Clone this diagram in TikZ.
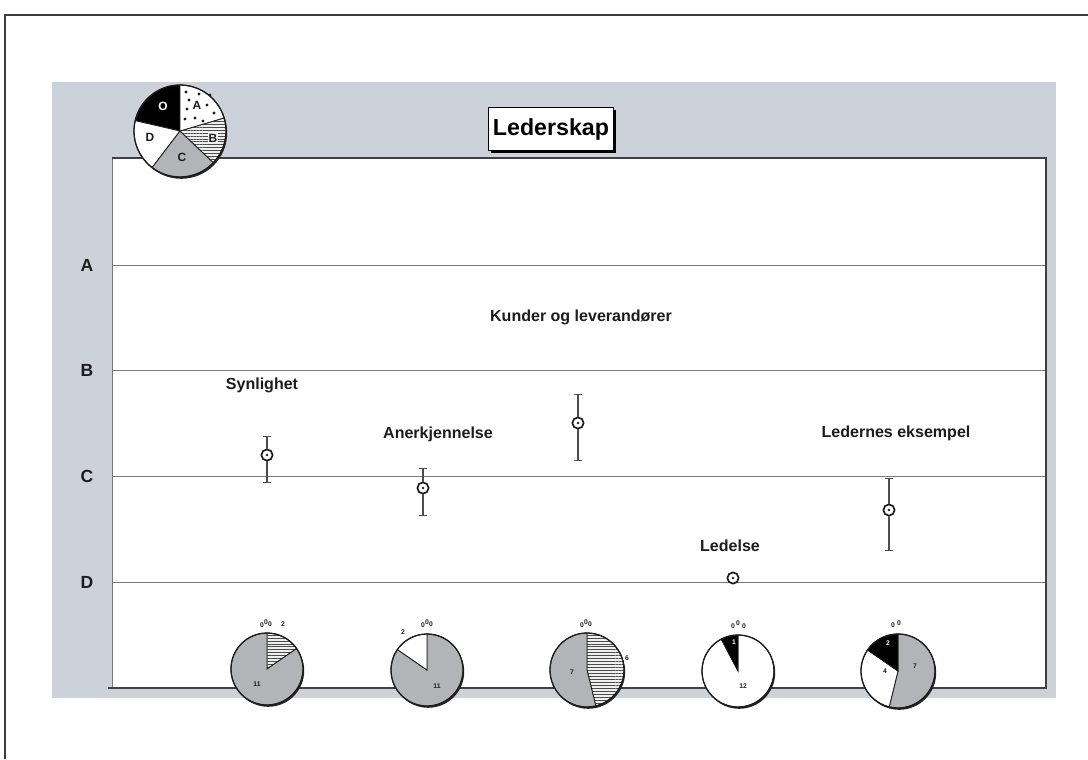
\documentclass[tikz,border=0pt]{standalone}
\usepackage{fontspec}
\setmainfont{Liberation Sans}
\usetikzlibrary{arrows.meta,patterns.meta,shadows}

\definecolor{panel}{RGB}{205,209,217}
\definecolor{sliceC}{RGB}{178,180,183}
\definecolor{ink}{RGB}{28,28,28}
\definecolor{gridc}{RGB}{120,120,120}
\definecolor{framec}{RGB}{60,60,60}

% one wedge of a pie: centre, radius, start angle, end angle (screen angles), style
\newcommand\piewedge[5]{\path[#5] (#1) -- ++({-(#3)}:#2) arc[start angle={-(#3)}, end angle={-(#4)}, radius=#2] -- cycle;}
% pie disc outline with a small drop shadow underneath
\newcommand\pieback[2]{\fill[black!85] (#1) ++(1.2,1.8) circle[radius=#2];}
\newcommand\pierim[2]{\draw[ink, line width=0.9pt] (#1) circle[radius=#2];}

\tikzset{
  sA/.style={fill=white, draw=ink, line width=0.6pt},
  sB/.style={preaction={fill=black!6}, pattern={Lines[angle=0,distance=2.1pt,line width=0.45pt]},
             pattern color=black!70, draw=ink, line width=0.6pt},
  sC/.style={fill=sliceC, draw=ink, line width=0.6pt},
  sD/.style={fill=white, draw=ink, line width=0.6pt},
  sO/.style={fill=black, draw=ink, line width=0.6pt},
  lvl/.style={font=\fontsize{12.5}{14}\selectfont\bfseries, text=ink},
  lbl/.style={font=\fontsize{11.4}{13}\selectfont\bfseries, text=ink},
  tiny/.style={font=\fontsize{4.8}{5}\selectfont\bfseries, text=ink, inner sep=0pt},
  tinyw/.style={tiny, text=white},
  leg/.style={font=\fontsize{8.5}{9}\selectfont\bfseries, text=ink, inner sep=0pt},
  marker/.style={circle, draw=ink, fill=white, line width=1.2pt, minimum size=8pt, inner sep=0pt},
  ebar/.style={draw=black!70, line width=0.75pt},
  gridl/.style={draw=gridc, line width=0.6pt},
}

\begin{document}
\begin{tikzpicture}[x=0.025cm, y=-0.025cm]
\useasboundingbox (0,0) rectangle (1088,759);
\fill[white] (0,0) rectangle (1088,759);

% page frame
\draw[framec, line width=1.4pt] (1088,15) -- (5,15) -- (5,759);

% grey panel and white plot area
\fill[panel] (52,82) rectangle (1056,698);
\fill[white] (112,158) rectangle (1046,688);

% level lines
\foreach \yy in {265,370,476,582} \draw[gridl] (112,\yy) -- (1046,\yy);
\draw[gridc, line width=0.6pt] (112,158) -- (112,688);
\draw[black!75, line width=0.8pt] (112,158) -- (1046,158) -- (1046,688) -- (108,688);

% level labels
\node[lvl] (lA) at (87,265) {A};
\node[lvl] (lB) at (87,370) {B};
\node[lvl] (lC) at (87,476) {C};
\node[lvl] (lD) at (87,582) {D};

% title
\node[draw=black, fill=white, line width=0.6pt, minimum width=87pt, minimum height=30pt,
      drop shadow={opacity=1, fill=black, shadow xshift=1.8pt, shadow yshift=-1.8pt},
      font=\fontsize{16.5}{18}\selectfont\bfseries] (title) at (551,129) {Lederskap};

% legend pie
\coordinate (lg) at (180,131);
\pieback{lg}{46}
\piewedge{lg}{46}{90}{167}{sO}
\piewedge{lg}{46}{167}{232.7}{sD}
\piewedge{lg}{46}{232.7}{316.5}{sC}
\piewedge{lg}{46}{316.5}{376.5}{sB}
\piewedge{lg}{46}{16.5}{90}{sA}
\foreach \p in {(186,92),(189,100),(187,109),(195,118),(207,105),(185,119),(203,121),(214,113),(210,95),(199,94)}
  \fill[ink] \p circle[radius=1.6];
\pierim{lg}{46}
\node[leg, text=white] (lgO) at (163,106) {O};
\node[leg] (lgA) at (197,105) {A};
\node[leg, fill=black!6, inner sep=0.4pt] (lgB) at (213,138) {B};
\node[leg] (lgC) at (182,157) {C};
\node[leg] (lgD) at (150,137) {D};

% error bar ends
\coordinate (t1) at (267,436); \coordinate (b1) at (267,483);
\coordinate (t2) at (423,468); \coordinate (b2) at (423,516);
\coordinate (t3) at (578,394); \coordinate (b3) at (578,461);
\coordinate (t5) at (889,478); \coordinate (b5) at (889,551);

% markers
\node[marker] (m1) at (267,455) {};
\node[marker] (m2) at (423,488) {};
\node[marker] (m3) at (578,423) {};
\node[marker] (m4) at (733,578) {};
\node[marker] (m5) at (889,510) {};
\foreach \m in {m1,m2,m3,m4,m5} \fill[ink] (\m.center) circle[radius=1.4];

% error bars
\foreach \i in {1,2,3,5} {
  \draw[ebar, {Bar[width=5pt]}-] (t\i) -- (m\i);
  \draw[ebar, -{Bar[width=5pt]}] (m\i) -- (b\i);
}

% item labels
\node[lbl] (n1) at (262,385) {Synlighet};
\node[lbl] (n2) at (438,434) {Anerkjennelse};
\node[lbl] (n3) at (581,317) {Kunder og leverandører};
\node[lbl] (n4) at (730,546) {Ledelse};
\node[lbl] (n5) at (896,433) {Ledernes eksempel};

% distribution pies
\coordinate (q1) at (267,669);
\pieback{q1}{36}
\piewedge{q1}{36}{90}{34.6}{sB}
\piewedge{q1}{36}{34.6}{-270}{sC}
\pierim{q1}{36}
\node[tiny] at (262,625) {0}; \node[tiny] at (266,622) {0}; \node[tiny] at (270,624) {0};
\node[tiny] at (283,624) {2};
\node[tiny] at (257,684) {11};

\coordinate (q2) at (427,670);
\pieback{q2}{36}
\piewedge{q2}{36}{90}{-214.6}{sC}
\piewedge{q2}{36}{145.4}{90}{sD}
\pierim{q2}{36}
\node[tiny] at (403,632) {2};
\node[tiny] at (423,625) {0}; \node[tiny] at (427,622) {0}; \node[tiny] at (431,624) {0};
\node[tiny] at (437,686) {11};

\coordinate (q3) at (587,670);
\pieback{q3}{37}
\piewedge{q3}{37}{90}{-76.2}{sB}
\piewedge{q3}{37}{-76.2}{-270}{sC}
\pierim{q3}{37}
\node[tiny] at (582,625) {0}; \node[tiny] at (586,622) {0}; \node[tiny] at (590,624) {0};
\node[tiny] at (627,658) {6};
\node[tiny] at (572,672) {7};

\coordinate (q4) at (738,671);
\pieback{q4}{36}
\piewedge{q4}{36}{90}{-242.3}{sD}
\piewedge{q4}{36}{117.7}{90}{sO}
\pierim{q4}{36}
\node[tiny] at (733,626) {0}; \node[tiny] at (738,623) {0}; \node[tiny] at (744,626) {0};
\node[tinyw] at (734,642) {1};
\node[tiny] at (743,686) {12};

\coordinate (q5) at (898,671);
\pieback{q5}{37}
\piewedge{q5}{37}{90}{-103.8}{sC}
\piewedge{q5}{37}{-103.8}{-214.6}{sD}
\piewedge{q5}{37}{145.4}{90}{sO}
\pierim{q5}{37}
\node[tiny] at (893,625) {0}; \node[tiny] at (899,623) {0};
\node[tinyw] at (888,643) {2};
\node[tiny] at (885,671) {4};
\node[tiny] at (915,666) {7};
\end{tikzpicture}
\end{document}
